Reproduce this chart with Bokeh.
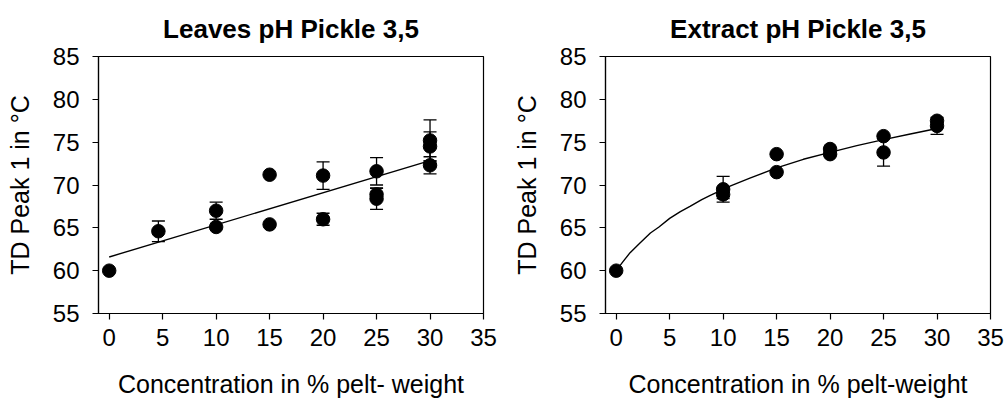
from bokeh.plotting import figure
from bokeh.layouts import row
from bokeh.models import ColumnDataSource, Whisker, TeeHead, Range1d, FixedTicker
from bokeh.embed import file_html
from bokeh.resources import INLINE

# ---------------- data ----------------
x_ticks = [0, 5, 10, 15, 20, 25, 30, 35]
y_ticks = [55, 60, 65, 70, 75, 80, 85]

leaves_title = "Leaves pH Pickle 3,5"
leaves_xlabel = "Concentration in % pelt- weight"
leaves_x = [0, 4.6, 10, 10, 15, 15, 20, 20, 25, 25, 25, 30, 30, 30]
leaves_y = [60.0, 64.6, 67.0, 65.1, 71.2, 65.4, 71.1, 66.0, 71.6, 68.9, 68.4, 75.2, 74.5, 72.3]
leaves_err = [0, 1.2, 1.0, 0, 0, 0, 1.6, 0.7, 1.6, 0.7, 1.25, 2.4, 1.7, 1.0]
leaves_trend_x = [0, 30]
leaves_trend_y = [61.6, 72.85]

extract_title = "Extract pH Pickle 3,5"
extract_xlabel = "Concentration in % pelt-weight"
extract_x = [0, 10, 10, 15, 15, 20, 20, 25, 25, 30, 30]
extract_y = [60.0, 69.5, 68.9, 73.6, 71.5, 74.2, 73.6, 75.7, 73.8, 77.5, 76.9]
extract_err = [0, 1.5, 0.5, 0, 0, 0, 0, 0, 1.6, 0, 1.0]
extract_curve_x = [0, 0.6, 1.3, 2.2, 3.2, 4.0, 5.0, 6.0, 6.9, 8.0, 8.8, 10.7,
                   12.5, 15, 17.5, 20, 22.5, 25, 27.5, 30]
extract_curve_y = [60.0, 61.0, 62.1, 63.2, 64.4, 65.1, 66.1, 66.9, 67.5, 68.3, 68.8, 69.9,
                   70.8, 72.0, 73.0, 73.8, 74.6, 75.3, 75.95, 76.6]

y_label = "TD Peak 1 in °C"

FONT = "Liberation Sans"
X_MIN, X_MAX, Y_MIN, Y_MAX = -1, 35, 55, 85


def make_panel(title, title_dx, xs, ys, errs, lx, ly, xlabel, width, b_left, b_right):
    p = figure(width=width, height=405, output_backend="svg", toolbar_location=None,
               x_range=Range1d(X_MIN, X_MAX), y_range=Range1d(Y_MIN, Y_MAX),
               min_border_left=b_left, min_border_right=b_right,
               min_border_top=56, min_border_bottom=92)
    p.background_fill_color = "white"
    p.border_fill_color = "white"
    p.outline_line_color = "black"
    p.outline_line_width = 1.2
    p.grid.visible = False

    p.title.text = title
    p.title.align = "center"
    p.title.vertical_align = "top"
    p.title.offset = title_dx
    p.title.standoff = 21
    p.title.text_font = FONT
    p.title.text_font_size = "26px"
    p.title.text_font_style = "bold"
    p.title.text_color = "black"

    for ax in (p.xaxis[0], p.yaxis[0]):
        ax.axis_line_color = "black"
        ax.axis_line_width = 1.2
        ax.major_tick_line_color = "black"
        ax.major_tick_line_width = 1.2
        ax.major_tick_in = 0
        ax.major_tick_out = 6
        ax.minor_tick_line_color = None
        ax.major_label_text_font = FONT
        ax.major_label_text_font_size = "24px"
        ax.major_label_text_color = "black"
        ax.axis_label_text_font = FONT
        ax.axis_label_text_font_size = "25px"
        ax.axis_label_text_font_style = "normal"
        ax.axis_label_text_color = "black"

    p.xaxis.ticker = FixedTicker(ticks=x_ticks)
    p.yaxis.ticker = FixedTicker(ticks=y_ticks)
    p.xaxis.axis_label = xlabel
    p.yaxis.axis_label = y_label
    p.xaxis.major_label_standoff = 9
    p.xaxis.axis_label_standoff = 21
    p.yaxis.major_label_standoff = 13
    p.yaxis.axis_label_standoff = 16

    bx = [x for x, e in zip(xs, errs) if e > 0]
    up = [y + e for y, e in zip(ys, errs) if e > 0]
    lo = [y - e for y, e in zip(ys, errs) if e > 0]
    src = ColumnDataSource(dict(base=bx, upper=up, lower=lo))
    w = Whisker(base="base", upper="upper", lower="lower", source=src, dimension="height",
                line_color="black", line_width=1.3,
                upper_head=TeeHead(size=13, line_color="black", line_width=1.3),
                lower_head=TeeHead(size=13, line_color="black", line_width=1.3))
    p.add_layout(w)

    p.line(lx, ly, line_color="black", line_width=1.4)
    p.scatter(xs, ys, marker="circle", size=13.5, fill_color="black", line_color="black")
    return p


p1 = make_panel(leaves_title, 6, leaves_x, leaves_y, leaves_err,
                leaves_trend_x, leaves_trend_y, leaves_xlabel, 500, 98, 17)
p2 = make_panel(extract_title, 3, extract_x, extract_y, extract_err,
                extract_curve_x, extract_curve_y, extract_xlabel, 506, 105, 16)

layout = row(p1, p2)
open("out.html", "w").write(file_html(layout, INLINE))
